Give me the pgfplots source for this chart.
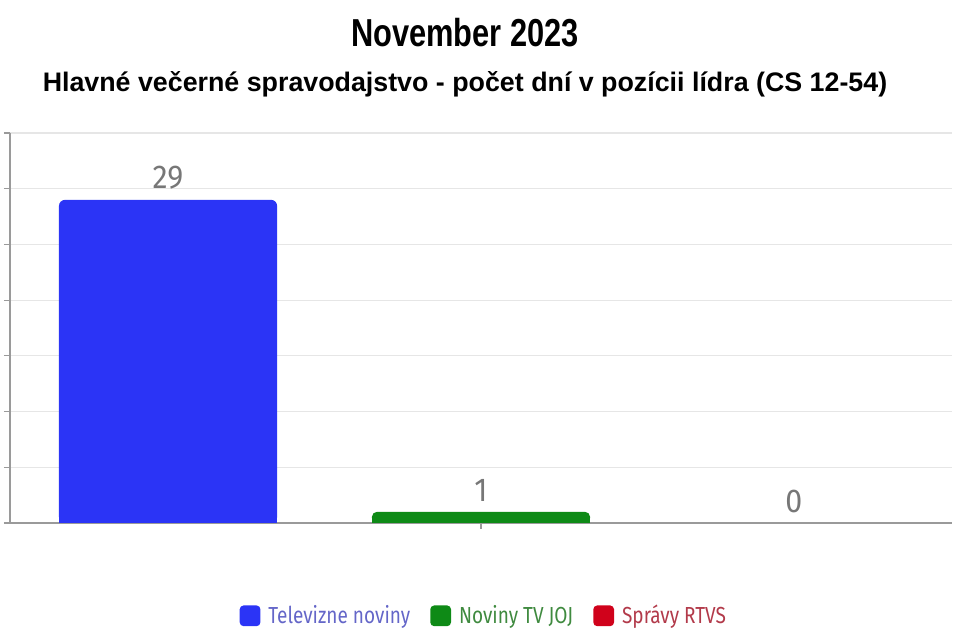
\documentclass[border=0pt]{standalone}
\usepackage{fontspec}
\usepackage{pgfplots}
\pgfplotsset{compat=1.18}
\setmainfont{Liberation Sans}
\newfontfamily\titlefont[FakeStretch=0.79]{Liberation Sans}
\newfontfamily\lightfont[FakeStretch=0.82]{Fira Sans}
\newfontfamily\labfont[FakeStretch=0.92]{Fira Sans}
\definecolor{blueC}{HTML}{2B34F6}
\definecolor{greenC}{HTML}{0E8A16}
\definecolor{redC}{HTML}{D0021B}
\definecolor{blueT}{HTML}{6466C8}
\definecolor{greenT}{HTML}{3F8A3F}
\definecolor{redT}{HTML}{B23A4A}
\definecolor{axisgray}{HTML}{9A9A9A}
\definecolor{gridgray}{HTML}{E6E6E6}
\definecolor{labgray}{HTML}{777777}
\begin{document}
\begin{tikzpicture}
\useasboundingbox (0,0) rectangle (479.5pt,321pt);
\node[font=\titlefont\bfseries\fontsize{19.5}{22}\selectfont, anchor=base, inner sep=0pt] at (232.5pt,297.5pt) {November 2023};
\node[font=\bfseries\fontsize{13.4}{16}\selectfont, anchor=base, inner sep=0pt] at (232.5pt,275pt) {Hlavné večerné spravodajstvo - počet dní v pozícii lídra (CS 12-54)};
\begin{axis}[
  at={(5pt,59.5pt)}, anchor=south west, scale only axis,
  width=471pt, height=195pt,
  xmin=-1.505, xmax=1.505, ymin=0, ymax=35,
  axis lines=left, axis line style={-, draw=axisgray, line width=0.8pt},
  xtick={0}, xticklabels={}, ytick={0,5,...,35}, yticklabels={},
  tick align=outside, major tick length=3pt,
  tick style={draw=axisgray, line width=0.6pt},
  ymajorgrids, grid style={draw=gridgray, line width=0.6pt},
  ybar, bar shift=0pt, bar width=0.697,
  legend columns=-1,
  legend style={at={(0.504,-0.238)}, anchor=center, draw=none, fill=none,
    font=\lightfont\fontsize{11.6}{13}\selectfont,
    /tikz/every even column/.append style={column sep=8pt}},
  legend image code/.code={\fill[#1, rounded corners=2pt] (0pt,-5.2pt) rectangle (10.4pt,5.2pt); \path (12.4pt,0pt);},
]
\addplot[fill=blueC, draw=none, rounded corners=3pt] coordinates {(-1,29)};
\addlegendentry{\textcolor{blueT}{Televizne noviny}}
\addplot[fill=greenC, draw=none, rounded corners=2.5pt] coordinates {(0,1)};
\addlegendentry{\textcolor{greenT}{Noviny TV JOJ}}
\addlegendimage{fill=redC, draw=none}
\addlegendentry{\textcolor{redT}{Správy RTVS}}
\addplot[fill=blueC, draw=none, forget plot] coordinates {(-1,14)};
\addplot[fill=greenC, draw=none, forget plot] coordinates {(0,0.5)};
\addplot[forget plot, only marks, mark=none, nodes near coords, point meta=y,
  /pgf/number format/assume math mode=true,
  every node near coord/.append style={anchor=south, inner sep=0pt, yshift=5pt,
    text=labgray, font=\labfont\fontsize{16.5}{18}\selectfont}]
  coordinates {(-1,29) (0,1) (1,0)};
\end{axis}
\end{tikzpicture}
\end{document}
